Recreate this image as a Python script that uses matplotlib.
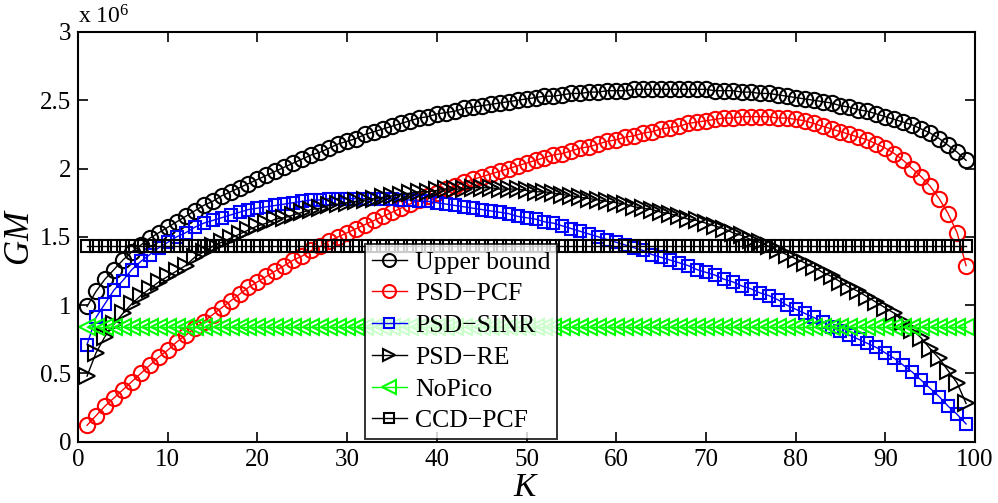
import matplotlib
matplotlib.use("Agg")
import matplotlib.pyplot as plt

plt.rcParams['font.family'] = ['Liberation Serif', 'DejaVu Serif']
plt.rcParams['mathtext.fontset'] = 'custom'
plt.rcParams['mathtext.it'] = 'Liberation Serif:italic'
plt.rcParams['mathtext.rm'] = 'Liberation Serif'

K = list(range(1, 100))

upper_bound = [
    0.99, 1.10, 1.19, 1.26, 1.33, 1.39, 1.44, 1.49, 1.53, 1.57,
    1.61, 1.65, 1.69, 1.73, 1.76, 1.80, 1.83, 1.86, 1.89, 1.92,
    1.95, 1.98, 2.01, 2.04, 2.07, 2.10, 2.12, 2.15, 2.18, 2.20,
    2.22, 2.25, 2.27, 2.29, 2.31, 2.33, 2.35, 2.37, 2.38, 2.40,
    2.41, 2.42, 2.44, 2.45, 2.46, 2.47, 2.48, 2.49, 2.50, 2.51,
    2.52, 2.53, 2.53, 2.54, 2.55, 2.55, 2.56, 2.56, 2.57, 2.57,
    2.57, 2.58, 2.58, 2.58, 2.58, 2.58, 2.58, 2.58, 2.58, 2.58,
    2.57, 2.57, 2.57, 2.56, 2.56, 2.55, 2.55, 2.54, 2.53, 2.52,
    2.51, 2.50, 2.49, 2.48, 2.46, 2.45, 2.43, 2.42, 2.40, 2.38,
    2.36, 2.34, 2.32, 2.29, 2.26, 2.22, 2.17, 2.12, 2.06]

psd_pcf = [
    0.12, 0.19, 0.26, 0.32, 0.38, 0.44, 0.50, 0.56, 0.62, 0.67,
    0.73, 0.78, 0.83, 0.88, 0.93, 0.98, 1.03, 1.08, 1.13, 1.17,
    1.21, 1.25, 1.29, 1.33, 1.36, 1.40, 1.43, 1.47, 1.50, 1.53,
    1.56, 1.59, 1.62, 1.65, 1.68, 1.71, 1.74, 1.77, 1.80, 1.82,
    1.85, 1.87, 1.90, 1.92, 1.94, 1.96, 1.98, 2.00, 2.02, 2.04,
    2.06, 2.08, 2.10, 2.11, 2.13, 2.15, 2.16, 2.18, 2.20, 2.21,
    2.23, 2.24, 2.26, 2.27, 2.29, 2.30, 2.31, 2.33, 2.34, 2.35,
    2.36, 2.37, 2.37, 2.38, 2.38, 2.38, 2.38, 2.37, 2.37, 2.36,
    2.35, 2.33, 2.31, 2.29, 2.27, 2.25, 2.23, 2.21, 2.18, 2.15,
    2.11, 2.06, 2.00, 1.94, 1.87, 1.78, 1.67, 1.53, 1.29]

psd_sinr = [
    0.71, 0.91, 1.01, 1.11, 1.18, 1.26, 1.32, 1.37, 1.42, 1.46,
    1.50, 1.53, 1.57, 1.60, 1.62, 1.64, 1.66, 1.68, 1.70, 1.71,
    1.72, 1.73, 1.74, 1.75, 1.76, 1.77, 1.77, 1.78, 1.78, 1.78,
    1.78, 1.78, 1.78, 1.78, 1.78, 1.77, 1.77, 1.76, 1.76, 1.75,
    1.74, 1.73, 1.72, 1.71, 1.70, 1.69, 1.68, 1.67, 1.65, 1.64,
    1.63, 1.61, 1.60, 1.58, 1.56, 1.54, 1.52, 1.50, 1.48, 1.46,
    1.44, 1.42, 1.40, 1.37, 1.35, 1.33, 1.31, 1.29, 1.26, 1.24,
    1.22, 1.19, 1.17, 1.14, 1.12, 1.09, 1.07, 1.04, 1.00, 0.97,
    0.94, 0.91, 0.88, 0.84, 0.81, 0.78, 0.75, 0.72, 0.69, 0.65,
    0.61, 0.56, 0.51, 0.45, 0.39, 0.33, 0.26, 0.20, 0.13]

psd_re = [
    0.48, 0.65, 0.77, 0.86, 0.94, 1.01, 1.07, 1.12, 1.17, 1.21,
    1.25, 1.29, 1.35, 1.39, 1.43, 1.46, 1.49, 1.52, 1.55, 1.58,
    1.60, 1.63, 1.64, 1.66, 1.68, 1.70, 1.71, 1.73, 1.74, 1.75,
    1.76, 1.77, 1.78, 1.79, 1.80, 1.81, 1.82, 1.83, 1.83, 1.84,
    1.85, 1.85, 1.85, 1.86, 1.86, 1.86, 1.85, 1.85, 1.85, 1.84,
    1.83, 1.83, 1.82, 1.81, 1.80, 1.79, 1.78, 1.77, 1.76, 1.75,
    1.74, 1.72, 1.71, 1.70, 1.68, 1.67, 1.65, 1.63, 1.62, 1.60,
    1.58, 1.56, 1.53, 1.51, 1.48, 1.46, 1.43, 1.40, 1.37, 1.34,
    1.31, 1.28, 1.24, 1.21, 1.17, 1.13, 1.10, 1.06, 1.02, 0.98,
    0.94, 0.88, 0.82, 0.76, 0.68, 0.61, 0.52, 0.43, 0.28]

nopico = [0.84] * 99
ccd_pcf = [1.43] * 99

series = [
    ("Upper bound", upper_bound, "k", "o"),
    ("PSD\u2212PCF", psd_pcf, "#ff0000", "o"),
    ("PSD\u2212SINR", psd_sinr, "#0000ff", "s"),
    ("PSD\u2212RE", psd_re, "k", ">"),
    ("NoPico", nopico, "#00ff00", "<"),
    ("CCD\u2212PCF", ccd_pcf, "k", "s"),
]
marker_sizes = {"o": 11, "s": 8.5, ">": 11, "<": 11.5}

fig = plt.figure(figsize=(9.98, 5.03), dpi=100)
ax = fig.add_axes([0.0782, 0.1219, 0.8988, 0.8145])

for label, vals, col, mk in series:
    ax.plot(K, [v * 1e6 for v in vals], color=col, marker=mk, markersize=marker_sizes[mk],
            markerfacecolor='none', markeredgecolor=col, markeredgewidth=1.5,
            linewidth=1.0, label=label)

ax.set_xlim(0, 100)
ax.set_ylim(0, 3e6)
ax.set_xticks(range(0, 101, 10))
ax.set_yticks([0, 0.5e6, 1e6, 1.5e6, 2e6, 2.5e6, 3e6])
ax.set_yticklabels(["0", "0.5", "1", "1.5", "2", "2.5", "3"])
ax.tick_params(direction='in', top=True, right=True, length=7, width=1.2,
               labelsize=18, pad=5)
for s in ax.spines.values():
    s.set_linewidth(1.5)

ax.set_xlabel("$K$", fontsize=24, labelpad=1)
ax.set_ylabel("$GM$", fontsize=25, labelpad=2)
fig.text(0.0782, 0.943, "x 10$^{6}$", fontsize=17, ha='left', va='bottom')

leg = ax.legend(loc='upper left', bbox_to_anchor=(0.32, 0.482), fontsize=18.5,
                frameon=True, fancybox=False, edgecolor='k', handlelength=1.4,
                handletextpad=0.3, borderpad=0.25, labelspacing=0.34, borderaxespad=0,
                markerscale=0.85)
leg.get_frame().set_linewidth(1.4)

fig.savefig("out.png", dpi=100)
